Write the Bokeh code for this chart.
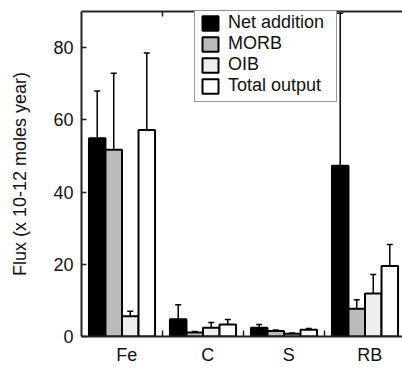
from bokeh.plotting import figure
from bokeh.models import (Range1d, FixedTicker, LinearAxis, Whisker, TeeHead,
                          ColumnDataSource, Legend, LegendItem)
from bokeh.embed import file_html
from bokeh.resources import INLINE
import numpy as np

categories = ["Fe", "C", "S", "RB"]
series = ["Net addition", "MORB", "OIB", "Total output"]
net = [54.9, 4.8, 2.4, 47.3]
net_err = [13.1, 4.0, 0.9, 42.2]
morb = [51.7, 1.1, 1.5, 7.7]
morb_err = [21.2, 0.3, 0.3, 2.5]
oib = [5.6, 2.4, 0.75, 11.9]
oib_err = [1.4, 1.5, 0.2, 5.3]
total = [57.2, 3.3, 1.9, 19.5]
total_err = [21.3, 1.4, 0.35, 6.0]
y_ticks = [0, 20, 40, 60, 80]

values = [net, morb, oib, total]
errors = [net_err, morb_err, oib_err, total_err]
fills = ["#000000", "#bbbbbb", "#eeeeee", "#ffffff"]

FONT = "Liberation Sans"
AX = "#222222"

p = figure(width=402, height=367, output_backend="svg", toolbar_location=None,
           x_range=Range1d(0, 3.963), y_range=Range1d(0, 90),
           x_axis_type=None, y_axis_type=None,
           min_border_left=81, min_border_top=11, min_border_bottom=22,
           min_border_right=0)
p.outline_line_color = None
p.xgrid.visible = False
p.ygrid.visible = False

centers = np.arange(len(categories)) + 0.5
bw = 0.204
offsets = [-1.5, -0.5, 0.5, 1.5]

renderers = []
for i, name in enumerate(series):
    xs = centers + offsets[i] * bw
    v = np.array(values[i])
    e = np.array(errors[i])
    src = ColumnDataSource(dict(x=xs, top=v, upper=v + e, lower=v - e))
    r = p.vbar(x="x", top="top", width=bw, bottom=0, source=src,
               fill_color=fills[i], line_color="#000000", line_width=2)
    renderers.append((name, r))
    w = Whisker(source=src, base="x", upper="upper", lower="lower",
                line_color="#000000", line_width=1.5,
                upper_head=TeeHead(size=6, line_width=1.5, line_color="#000000"),
                lower_head=TeeHead(size=6, line_width=1.5, line_color="#000000"))
    p.add_layout(w)

# left axis
ya = LinearAxis(ticker=FixedTicker(ticks=y_ticks))
ya.axis_label = "Flux (x 10-12 moles year)"
ya.axis_label_text_font = FONT
ya.axis_label_text_font_size = "18px"
ya.axis_label_text_font_style = "normal"
ya.axis_label_text_color = "#111111"
ya.axis_label_standoff = 20
ya.major_label_text_font = FONT
ya.major_label_text_font_size = "18px"
ya.major_label_text_color = "#111111"
ya.major_label_standoff = 8
ya.major_tick_in = 5
ya.major_tick_out = 0
ya.minor_tick_line_color = None
ya.axis_line_width = 2
ya.axis_line_color = AX
ya.major_tick_line_color = AX
ya.major_tick_line_width = 1.5
p.add_layout(ya, "left")

# bottom axis: labels slightly right of group centres, as in the original
label_pos = [float(c + 0.06) for c in centers]
xa = LinearAxis(ticker=FixedTicker(ticks=label_pos, minor_ticks=[1, 2, 3]))
xa.major_label_overrides = {pos: lab for pos, lab in zip(label_pos, categories)}
xa.major_label_text_font = FONT
xa.major_label_text_font_size = "18px"
xa.major_label_text_color = "#111111"
xa.major_label_standoff = 8
xa.major_tick_in = 0
xa.major_tick_out = 0
xa.minor_tick_in = 6
xa.minor_tick_out = 0
xa.minor_tick_line_color = AX
xa.minor_tick_line_width = 1.5
xa.axis_line_width = 2
xa.axis_line_color = AX
p.add_layout(xa, "below")

# top axis (frame line with separator ticks, no labels)
ta = LinearAxis(ticker=FixedTicker(ticks=[], minor_ticks=[1, 2, 3]))
ta.major_label_standoff = 0
ta.major_tick_in = 0
ta.major_tick_out = 0
ta.minor_tick_in = 5
ta.minor_tick_out = 0
ta.minor_tick_line_color = AX
ta.minor_tick_line_width = 1.5
ta.axis_line_width = 2
ta.axis_line_color = AX
p.add_layout(ta, "above")

legend = Legend(items=[LegendItem(label=n, renderers=[r]) for n, r in renderers],
                location=(113, 234))
legend.label_text_font = FONT
legend.label_text_font_size = "18px"
legend.label_text_color = "#111111"
legend.glyph_width = 20
legend.glyph_height = 18
legend.label_height = 18
legend.label_width = 103
legend.label_standoff = 8
legend.spacing = -1
legend.padding = 5
legend.margin = 0
legend.border_line_color = "#333333"
legend.border_line_width = 1.5
legend.background_fill_alpha = 1
p.add_layout(legend, "center")

open("out.html", "w").write(file_html(p, INLINE))
